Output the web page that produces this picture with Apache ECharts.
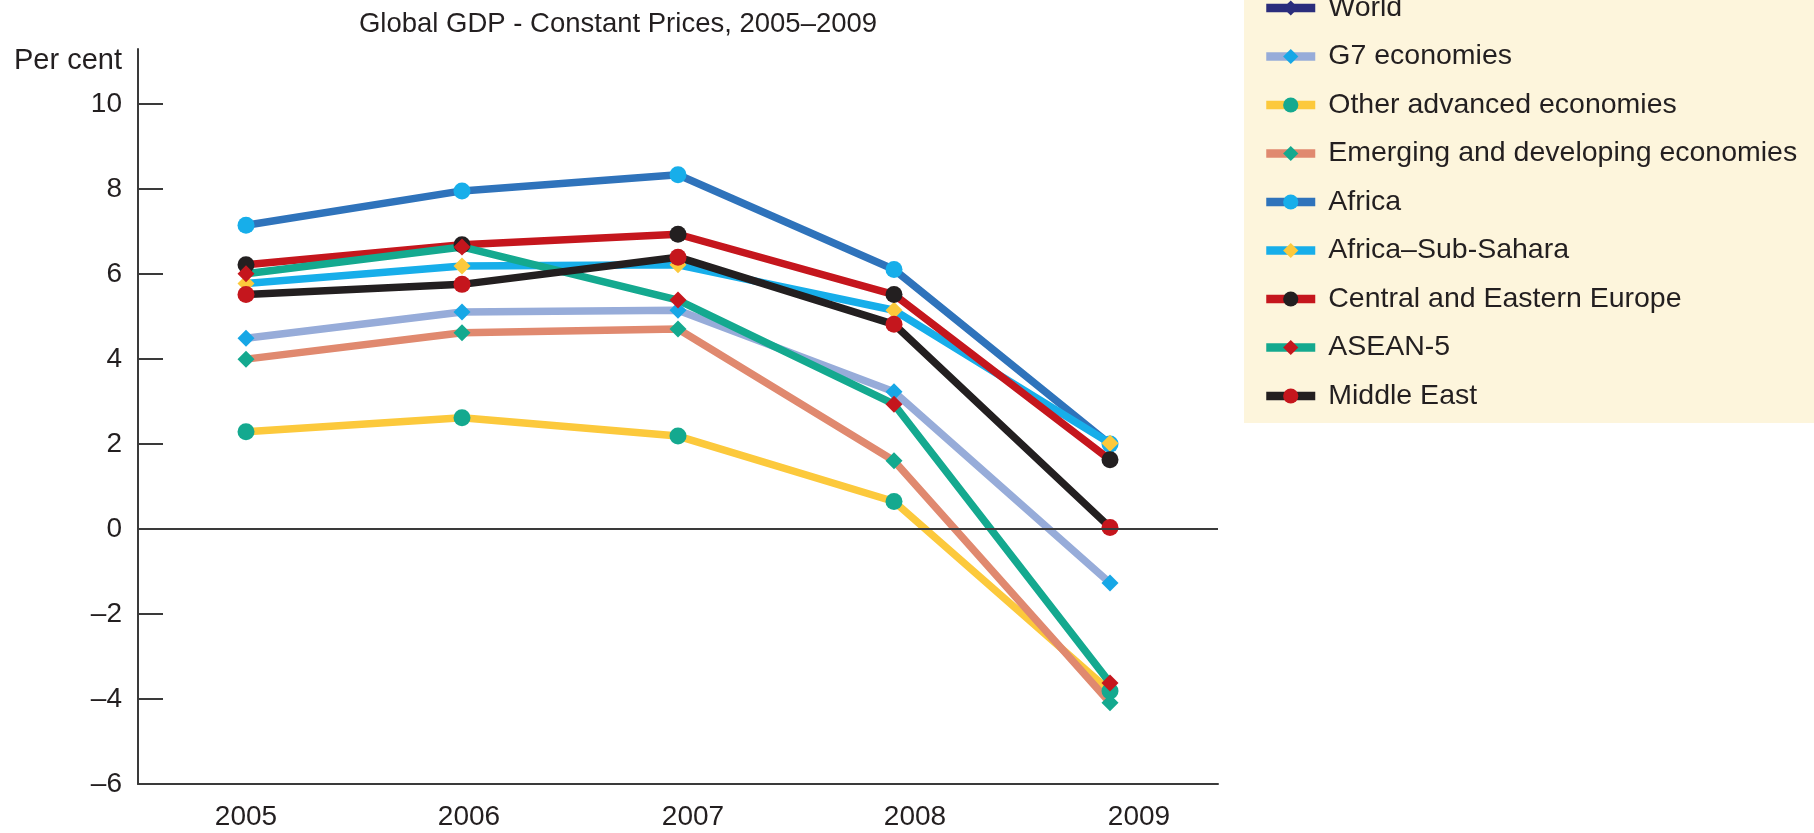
<!DOCTYPE html>
<html>
<head>
<meta charset="utf-8">
<title>Global GDP - Constant Prices, 2005–2009</title>
<script src="https://cdn.jsdelivr.net/npm/echarts@6.0.0/dist/echarts.min.js"></script>
<style>
    html, body { margin: 0; padding: 0; background: #fff; }
    #gdp_lines { width: 1814px; height: 833px; }
</style>
</head>
<body>
<div id="gdp_lines"></div>
<script>

// Chart data
// ------------------------------

var years = ['2005', '2006', '2007', '2008', '2009'];
var yTicks = [-6, -4, -2, 0, 2, 4, 6, 8, 10];

var seriesNames = [
    'World', 'G7 economies', 'Other advanced economies', 'Emerging and developing economies',
    'Africa', 'Africa–Sub-Sahara', 'Central and Eastern Europe', 'ASEAN-5', 'Middle East'
];

var world = [];
var g7 = [4.49, 5.11, 5.15, 3.23, -1.27];
var otherAdvanced = [2.29, 2.62, 2.19, 0.65, -3.81];
var emerging = [4.0, 4.62, 4.71, 1.61, -4.09];
var africa = [7.15, 7.96, 8.34, 6.11, 2.0];
var subSahara = [5.78, 6.19, 6.22, 5.15, 2.02];
var easternEurope = [6.22, 6.69, 6.94, 5.52, 1.63];
var asean5 = [6.01, 6.64, 5.39, 2.94, -3.62];
var middleEast = [5.52, 5.76, 6.4, 4.82, 0.04];


// Setup chart
// ------------------------------

document.addEventListener('DOMContentLoaded', function() {

    var element = document.getElementById('gdp_lines');
    var chart = echarts.init(element);

    var font = "'Liberation Sans', Arial, sans-serif";
    var ink = '#231f20';
    var axisInk = '#3a3a3a';

    // line colour, marker colour, marker shape
    var looks = [
        ['#2b2d7c', '#2b2d7c', 'diamond'],
        ['#97acd9', '#17a7e6', 'diamond'],
        ['#fcc93c', '#14a98f', 'circle'],
        ['#e0896f', '#14a98f', 'diamond'],
        ['#2f73bb', '#17aeea', 'circle'],
        ['#17aeea', '#fcc93c', 'diamond'],
        ['#c5161d', ink, 'circle'],
        ['#14a98f', '#c5161d', 'diamond'],
        [ink, '#c5161d', 'circle']
    ];
    var values = [world, g7, otherAdvanced, emerging, africa, subSahara, easternEurope, asean5, middleEast];

    var series = values.map(function(data, i) {
        return {
            name: seriesNames[i],
            type: 'line',
            data: data,
            symbol: looks[i][2],
            symbolSize: 17,
            showAllSymbol: true,
            lineStyle: { color: looks[i][0], width: 7.5 },
            itemStyle: { color: looks[i][1] },
            emphasis: { disabled: true },
            animation: false
        };
    });

    // Zero line
    series[1].markLine = {
        silent: true,
        symbol: 'none',
        label: { show: false },
        lineStyle: { color: axisInk, width: 2, type: 'solid' },
        data: [{ yAxis: 0 }],
        animation: false
    };

    // small per-label shifts of the year labels, as in the original
    var labelRich = {};
    [0, 14, 30, 42, 58].forEach(function(pad, i) {
        labelRich['y' + i] = { padding: [0, 0, 0, pad], fontSize: 28, fontFamily: font, color: ink };
    });

    chart.setOption({
        backgroundColor: '#ffffff',
        textStyle: { fontFamily: font, color: ink },

        title: {
            text: 'Global GDP - Constant Prices, 2005–2009',
            left: 618,
            top: 10,
            textAlign: 'center',
            padding: 0,
            textStyle: { fontSize: 27.5, fontWeight: 'normal', color: ink, fontFamily: font }
        },

        graphic: [
            {
                type: 'rect',
                left: 1244,
                top: 0,
                z: -10,
                shape: { width: 570, height: 423 },
                style: { fill: '#fdf5dc' },
                silent: true
            },
            {
                type: 'text',
                right: 1814 - 122,
                top: 46,
                style: { text: 'Per cent', fontSize: 29, fontFamily: font, fill: ink },
                silent: true
            }
        ],

        legend: {
            orient: 'vertical',
            left: 1262,
            top: -10,
            padding: 0,
            itemGap: 12.5,
            itemWidth: 49,
            itemHeight: 19,
            selectedMode: false,
            lineStyle: { width: 8.5 },
            textStyle: { fontSize: 28.5, lineHeight: 36, color: ink, fontFamily: font, padding: [0, 0, 0, 8] },
            data: seriesNames
        },

        grid: {
            left: 138,
            right: 596,
            top: 49,
            bottom: 49,
            containLabel: false
        },

        xAxis: {
            type: 'category',
            data: years,
            boundaryGap: true,
            axisLine: { onZero: false, lineStyle: { color: axisInk, width: 2 } },
            axisTick: { inside: true, length: 26, interval: 0, lineStyle: { color: axisInk, width: 2 } },
            axisLabel: {
                margin: 19,
                interval: 0,
                formatter: function(val, idx) { return '{y' + idx + '|' + val + '}'; },
                rich: labelRich
            },
            splitLine: { show: false }
        },

        yAxis: {
            type: 'value',
            min: -6,
            max: 11.3,
            interval: 2,
            axisLine: { show: true, lineStyle: { color: axisInk, width: 2 } },
            axisTick: {
                show: true,
                inside: true,
                length: 25,
                customValues: yTicks.slice(1),
                lineStyle: { color: axisInk, width: 2 }
            },
            axisLabel: {
                margin: 16,
                fontSize: 28,
                color: ink,
                fontFamily: font,
                customValues: yTicks,
                formatter: function(v) { return v < 0 ? '–' + Math.abs(v) : String(v); }
            },
            splitLine: { show: false }
        },

        series: series
    });

    window.addEventListener('resize', function() {
        chart.resize();
    });
});
</script>
</body>
</html>
